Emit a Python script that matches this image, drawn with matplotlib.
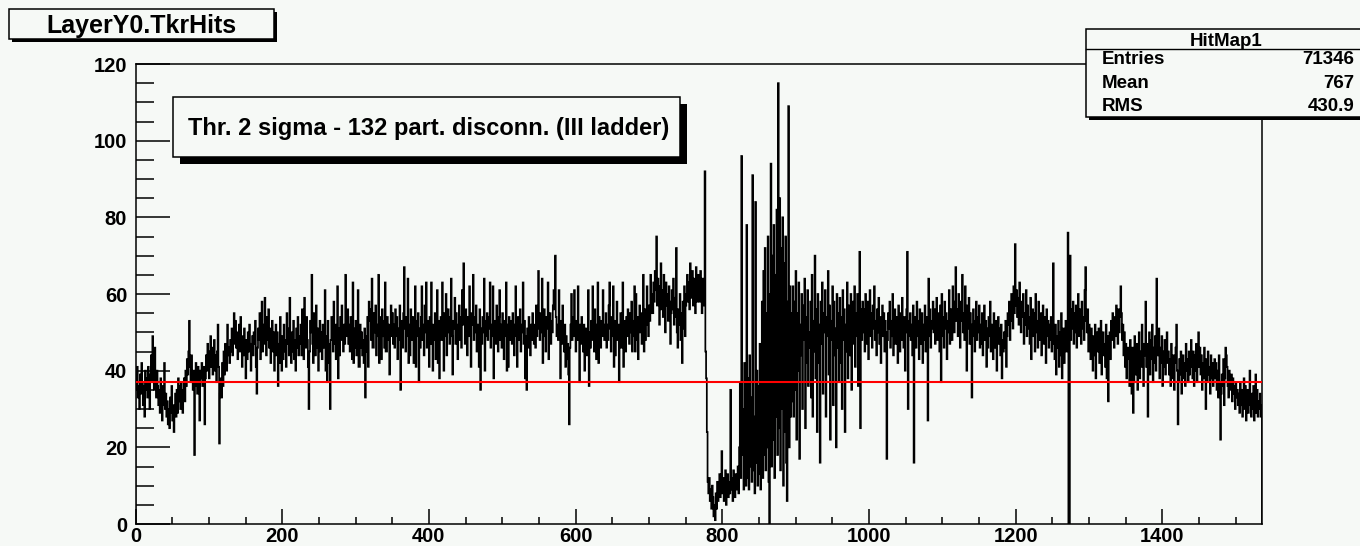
import numpy as np
import matplotlib
matplotlib.use("Agg")
import matplotlib.pyplot as plt
from matplotlib.patches import Rectangle
from matplotlib.ticker import MultipleLocator

plt.rcParams.update({
    "font.family": ["Liberation Sans", "DejaVu Sans"],
    "font.weight": "bold",
})

# hits per strip (1536 strips, 32 per row)
hits = [
    38, 35, 41, 33, 36, 30, 39, 34, 42, 37, 31, 36, 28, 40, 35, 38, 33, 41, 36, 30, 39, 44, 37, 49, 42, 35, 46, 38, 33, 40, 36, 31,
    35, 29, 38, 33, 27, 36, 31, 42, 30, 34, 28, 32, 26, 30, 25, 33, 29, 36, 27, 31, 24, 30, 34, 28, 35, 29, 38, 32, 36, 30, 37, 33,
    29, 35, 38, 32, 40, 36, 43, 39, 45, 53, 41, 37, 44, 38, 35, 40, 18, 36, 42, 39, 34, 41, 37, 27, 40, 38, 42, 36, 39, 41, 26, 38,
    44, 40, 47, 42, 38, 45, 49, 41, 46, 39, 43, 48, 40, 44, 37, 45, 52, 41, 21, 34, 38, 33, 42, 36, 45, 39, 47, 43, 40, 52, 44, 46,
    42, 48, 45, 51, 44, 49, 55, 47, 53, 46, 50, 43, 48, 52, 45, 54, 47, 41, 49, 44, 51, 46, 38, 48, 43, 50, 45, 52, 47, 40, 46, 49,
    44, 50, 47, 53, 41, 34, 46, 51, 48, 55, 43, 49, 58, 45, 52, 47, 59, 50, 44, 54, 48, 56, 46, 51, 42, 49, 53, 45, 50, 40, 47, 52,
    44, 50, 36, 47, 42, 54, 46, 40, 49, 43, 52, 45, 48, 41, 55, 47, 51, 44, 59, 46, 42, 50, 45, 53, 43, 48, 40, 51, 46, 54, 44, 49,
    47, 52, 44, 56, 49, 43, 59, 51, 46, 54, 48, 41, 30, 45, 53, 50, 65, 47, 42, 55, 49, 44, 57, 46, 51, 40, 48, 53, 45, 50, 43, 52,
    46, 51, 61, 40, 49, 37, 53, 47, 42, 30, 48, 54, 50, 45, 58, 47, 52, 43, 49, 62, 38, 51, 44, 54, 48, 57, 50, 45, 52, 47, 65, 53,
    49, 56, 47, 52, 45, 54, 50, 43, 63, 42, 51, 46, 53, 44, 49, 61, 41, 41, 52, 46, 50, 44, 48, 42, 51, 33, 45, 49, 54, 41, 58, 56,
    53, 48, 64, 46, 46, 55, 50, 57, 44, 52, 49, 65, 42, 54, 51, 43, 56, 49, 53, 46, 63, 45, 45, 54, 48, 52, 39, 51, 57, 49, 55, 47,
    52, 46, 56, 49, 54, 43, 51, 48, 57, 35, 50, 53, 46, 55, 67, 51, 45, 54, 49, 64, 42, 52, 44, 56, 50, 48, 54, 42, 51, 62, 41, 53,
    49, 55, 37, 51, 46, 54, 62, 48, 52, 44, 57, 50, 63, 46, 53, 49, 41, 54, 47, 63, 51, 40, 52, 48, 55, 43, 50, 61, 42, 53, 38, 51,
    54, 48, 63, 51, 40, 55, 49, 60, 44, 52, 56, 50, 47, 54, 64, 49, 39, 53, 51, 59, 47, 55, 50, 43, 52, 57, 48, 54, 46, 61, 52, 68,
    53, 47, 56, 50, 44, 54, 49, 62, 51, 41, 55, 52, 65, 48, 54, 50, 57, 45, 52, 49, 41, 56, 35, 51, 47, 54, 50, 64, 40, 53, 49, 55,
    48, 54, 51, 63, 46, 52, 49, 62, 38, 53, 50, 47, 57, 51, 45, 54, 61, 48, 52, 46, 55, 50, 43, 53, 49, 63, 40, 52, 41, 54, 50, 48,
    53, 47, 55, 50, 44, 52, 62, 49, 41, 54, 51, 48, 56, 45, 52, 50, 63, 47, 53, 38, 49, 35, 51, 46, 54, 49, 44, 52, 48, 55, 50, 47,
    52, 46, 57, 49, 54, 66, 51, 48, 55, 50, 64, 42, 53, 56, 49, 45, 54, 51, 63, 43, 52, 55, 47, 53, 50, 57, 61, 56, 70, 54, 49, 52,
    48, 61, 51, 38, 53, 47, 57, 50, 45, 52, 41, 49, 43, 47, 39, 26, 46, 52, 60, 48, 54, 49, 61, 51, 45, 53, 48, 62, 50, 37, 52, 47,
    54, 49, 45, 52, 40, 47, 51, 44, 49, 61, 36, 50, 46, 53, 48, 62, 51, 45, 56, 49, 43, 52, 63, 42, 54, 50, 46, 53, 49, 61, 52, 48,
    50, 55, 46, 52, 48, 57, 63, 51, 45, 54, 49, 62, 41, 53, 44, 50, 58, 48, 52, 37, 49, 55, 46, 51, 63, 41, 53, 50, 45, 54, 49, 56,
    52, 47, 55, 50, 58, 45, 53, 49, 62, 45, 60, 48, 54, 43, 52, 57, 50, 55, 47, 53, 65, 45, 56, 48, 54, 62, 52, 49, 57, 53, 65, 55,
    60, 55, 63, 58, 66, 61, 75, 57, 64, 59, 52, 62, 68, 56, 61, 54, 65, 58, 50, 63, 57, 60, 53, 62, 58, 47, 55, 61, 56, 64, 52, 59,
    54, 72, 50, 46, 56, 52, 60, 48, 55, 42, 58, 51, 62, 49, 57, 60, 65, 58, 63, 56, 68, 61, 59, 66, 57, 64, 60, 55, 67, 62, 58, 65,
    63, 58, 66, 60, 55, 64, 57, 61, 92, 45, 38, 24, 11, 8, 12, 6, 9, 4, 10, 7, 2, 5, 1, 8, 4, 11, 6, 9, 13, 7, 10, 19,
    8, 12, 6, 10, 14, 5, 9, 13, 7, 11, 8, 35, 9, 12, 6, 14, 10, 7, 13, 9, 11, 15, 8, 20, 37, 12, 96, 18, 30, 9, 42, 14,
    10, 78, 12, 38, 9, 44, 15, 33, 11, 91, 14, 28, 8, 84, 16, 40, 10, 36, 13, 47, 9, 30, 58, 12, 66, 18, 72, 14, 55, 20, 75, 11,
    0, 60, 94, 15, 70, 22, 78, 12, 65, 28, 82, 18, 115, 25, 85, 14, 72, 30, 80, 10, 68, 24, 75, 16, 6, 58, 109, 20, 62, 28, 55, 32,
    62, 28, 58, 35, 66, 22, 55, 40, 63, 17, 52, 44, 60, 30, 57, 48, 64, 25, 54, 42, 61, 36, 50, 46, 58, 33, 65, 28, 53, 45, 70, 38,
    56, 24, 60, 42, 52, 16, 58, 47, 63, 34, 55, 50, 61, 28, 49, 54, 66, 39, 57, 22, 53, 48, 62, 31, 58, 44, 51, 20, 60, 46, 55, 37,
    59, 42, 54, 30, 61, 48, 56, 24, 52, 45, 63, 38, 57, 50, 44, 60, 35, 53, 58, 47, 62, 41, 55, 49, 60, 36, 52, 71, 25, 56, 48, 58,
    50, 56, 45, 60, 52, 47, 58, 43, 54, 61, 49, 55, 46, 57, 51, 62, 48, 53, 44, 56, 50, 59, 47, 54, 42, 52, 57, 49, 55, 45, 53, 50,
    17, 48, 55, 51, 58, 46, 53, 49, 60, 44, 52, 56, 47, 54, 50, 42, 57, 51, 45, 55, 48, 59, 52, 46, 54, 40, 50, 56, 71, 30, 49, 53,
    55, 48, 52, 44, 57, 16, 50, 54, 46, 58, 49, 53, 43, 56, 51, 47, 55, 42, 52, 48, 57, 45, 50, 54, 27, 64, 49, 56, 46, 53, 51, 58,
    50, 56, 47, 53, 59, 48, 55, 51, 45, 57, 37, 60, 49, 54, 46, 58, 51, 55, 43, 53, 50, 61, 47, 56, 52, 48, 62, 54, 50, 58, 67, 53,
    56, 49, 60, 52, 46, 58, 53, 65, 50, 55, 48, 62, 54, 40, 57, 51, 59, 47, 55, 52, 33, 49, 56, 51, 45, 53, 58, 48, 54, 50, 57, 46,
    52, 47, 55, 44, 50, 57, 48, 53, 41, 51, 46, 54, 49, 58, 45, 52, 48, 43, 55, 50, 46, 53, 40, 49, 54, 47, 51, 44, 52, 38, 48, 45,
    50, 46, 53, 41, 49, 55, 52, 58, 48, 56, 60, 53, 51, 62, 55, 73, 57, 61, 54, 59, 52, 63, 56, 50, 58, 54, 60, 47, 55, 52, 61, 49,
    57, 51, 54, 47, 59, 43, 52, 56, 49, 55, 45, 60, 50, 53, 46, 58, 52, 48, 55, 44, 51, 57, 47, 54, 50, 42, 56, 49, 53, 46, 52, 48,
    54, 45, 51, 68, 47, 43, 52, 39, 49, 46, 53, 41, 50, 44, 55, 38, 48, 51, 42, 47, 53, 45, 50, 76, 0, 0, 70, 48, 56, 51, 58, 47,
    55, 50, 57, 46, 53, 60, 49, 56, 52, 47, 58, 51, 54, 48, 61, 67, 53, 50, 56, 45, 52, 48, 43, 51, 46, 40, 49, 44, 52, 38, 47, 50,
    45, 51, 42, 48, 53, 39, 46, 50, 44, 47, 41, 52, 38, 49, 32, 46, 50, 43, 53, 48, 55, 51, 46, 54, 49, 57, 52, 47, 56, 50, 54, 62,
    55, 48, 52, 44, 50, 41, 47, 38, 43, 46, 45, 36, 48, 40, 34, 46, 29, 37, 49, 44, 39, 47, 35, 42, 50, 38, 45, 41, 52, 43, 36, 47,
    44, 58, 41, 47, 28, 45, 50, 39, 48, 43, 52, 37, 46, 42, 49, 40, 64, 47, 44, 51, 38, 46, 42, 49, 36, 45, 41, 48, 39, 44, 50, 42,
    45, 39, 43, 36, 47, 41, 38, 44, 35, 42, 46, 52, 40, 26, 37, 43, 39, 45, 34, 41, 44, 38, 42, 36, 47, 40, 43, 37, 45, 39, 41, 48,
    42, 38, 45, 36, 44, 40, 47, 37, 43, 50, 41, 46, 39, 44, 35, 42, 38, 46, 40, 30, 43, 37, 45, 39, 41, 34, 44, 38, 42, 36, 40, 43,
    38, 42, 35, 40, 33, 44, 37, 22, 34, 39, 36, 43, 31, 38, 46, 44, 41, 36, 33, 40, 37, 35, 39, 32, 38, 34, 36, 30, 37, 33, 35, 31,
    34, 29, 37, 31, 35, 28, 33, 38, 30, 36, 27, 32, 35, 29, 33, 40, 31, 28, 34, 30, 36, 27, 33, 39, 29, 35, 28, 32, 30, 34, 28, 31,
]
threshold = 37

title = "LayerY0.TkrHits"
note = "Thr. 2 sigma - 132 part. disconn. (III ladder)"
hist_name = "HitMap1"
stat_names = ["Entries", "Mean", "RMS"]
stat_values = ["71346", "767", "430.9"]

BG = "#f6f9f6"
W, H = 1360, 546

fig = plt.figure(figsize=(W / 100, H / 100), dpi=100, facecolor=BG)
ax = fig.add_axes([135.5 / W, 1 - 524 / H, (1262 - 135.5) / W, (524 - 64) / H],
                  facecolor=BG)

counts = np.array(hits)
edges = np.arange(counts.size + 1)
ax.stairs(counts, edges, color="black", lw=1.25, zorder=2)
ax.axhline(threshold, color="#ff0000", lw=1.5, zorder=3)

ax.set_xlim(0, counts.size)
ax.set_ylim(0, 120)
ax.xaxis.set_major_locator(MultipleLocator(200))
ax.xaxis.set_minor_locator(MultipleLocator(50))
ax.yaxis.set_major_locator(MultipleLocator(20))
ax.yaxis.set_minor_locator(MultipleLocator(5))
ax.tick_params(which="both", direction="in", top=False, right=False,
               width=1.1, labelsize=14.5)
ax.tick_params(axis="x", which="major", length=10.8, pad=2)
ax.tick_params(axis="x", which="minor", length=5.4)
ax.tick_params(axis="y", which="major", length=24.5, pad=6)
ax.tick_params(axis="y", which="minor", length=13)
for s in ax.spines.values():
    s.set_linewidth(1.1)

# overlay in pixel units for the paves
ov = fig.add_axes([0, 0, 1, 1], zorder=5)
ov.set_xlim(0, W)
ov.set_ylim(H, 0)
ov.set_axis_off()


def pave(x0, y0, x1, y1, dx, dy):
    ov.add_patch(Rectangle((x0 + dx, y0 + dy), x1 - x0, y1 - y0,
                           facecolor="black", edgecolor="none"))
    ov.add_patch(Rectangle((x0, y0), x1 - x0, y1 - y0,
                           facecolor=BG, edgecolor="black", lw=1.1))


pave(9, 9, 274, 39, 3, 3)
ov.text(141.5, 33, title, fontsize=18, ha="center", va="baseline")

pave(172.7, 96.7, 680, 156.7, 7, 7)
ov.text(188, 135, note, fontsize=17, ha="left", va="baseline")

pave(1086, 29.3, 1380, 117.5, 3, 3)
ov.plot([1086, W], [49.3, 49.3], color="black", lw=1.0)
ov.text(1226, 46, hist_name, fontsize=13.5, ha="center", va="baseline")
for i, (name, val) in enumerate(zip(stat_names, stat_values)):
    y = 64.3 + 23.4 * i
    ov.text(1101.7, y, name, fontsize=13.5, ha="left", va="baseline")
    ov.text(1354, y, val, fontsize=13.5, ha="right", va="baseline")

fig.savefig("out.png", dpi=100, facecolor=BG)
